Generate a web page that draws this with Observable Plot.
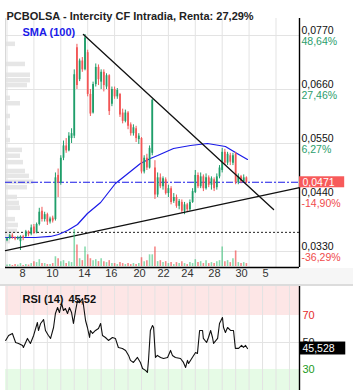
<!DOCTYPE html>
<html><head><meta charset="utf-8">
<script src="https://cdn.jsdelivr.net/npm/d3@7"></script>
<script src="https://cdn.jsdelivr.net/npm/@observablehq/plot@0.6"></script>
<style>
body{margin:0;background:#fff;}
#wrap{position:relative;width:353px;height:390px;overflow:hidden;font-family:"Liberation Sans",Arial,sans-serif;}
#wrap > *{position:absolute;left:0;}
#strip{top:268px;height:16px;width:353px;background:#f6f6f6;}
#sep{top:284px;height:2px;width:353px;background:#dcdcdc;}
</style></head><body><div id="wrap"><div id="strip"></div><div id="sep"></div></div>
<script>
// ---- data ----
const titleText = "PCBOLSA - Intercity CF Intradia, Renta: 27,29%";
const smaLabel = "SMA (100)";
const open = [.0352,.0356,.0362,.0358,.0355,.0350,.0360,.0360,.0370,.0365,
.0380,.0368,.0385,.0412,.0395,.0405,.0390,.0398,.0395,.0485,
.0470,.0520,.0545,.0535,.0560,.0565,.0745,.0680,.0718,.0700,
.0735,.0650,.0612,.0670,.0705,.0675,.0695,.0665,.0688,.0630,
.0660,.0645,.0650,.0612,.0595,.0612,.0588,.0570,.0580,.0558,
.0560,.0492,.0520,.0500,.0530,.0500,.0445,.0480,.0462,.0476,
.0448,.0458,.0432,.0440,.0422,.0430,.0412,.0425,.0415,.0430,
.0450,.0485,.0462,.0482,.0458,.0480,.0465,.0476,.0460,.0482,
.0495,.0532,.0510,.0525,.0510,.0528,.0470,.0482,.0472,.0480];
const close = [.0356,.0362,.0358,.0355,.0358,.0360,.0357,.0370,.0364,.0378,
.0367,.0385,.0410,.0395,.0405,.0390,.0396,.0392,.0480,.0470,
.0520,.0545,.0535,.0565,.0570,.0690,.0668,.0718,.0700,.0765,
.0650,.0610,.0670,.0705,.0680,.0695,.0668,.0688,.0615,.0660,
.0645,.0658,.0608,.0595,.0612,.0585,.0570,.0582,.0560,.0565,
.0492,.0520,.0500,.0540,.0638,.0445,.0480,.0462,.0478,.0448,
.0458,.0430,.0440,.0422,.0432,.0412,.0425,.0415,.0430,.0452,
.0485,.0462,.0482,.0458,.0480,.0465,.0478,.0458,.0482,.0500,
.0532,.0510,.0528,.0512,.0525,.0470,.0482,.0472,.0480,.0471];
const high = [.0358,.0365,.0366,.0360,.0361,.0362,.0363,.0373,.0372,.0384,
.0385,.0388,.0418,.0420,.0410,.0408,.0400,.0402,.0490,.0498,
.0525,.0555,.0560,.0572,.0580,.0700,.0752,.0722,.0725,.0772,
.0740,.0660,.0675,.0712,.0710,.0700,.0700,.0692,.0690,.0665,
.0665,.0662,.0652,.0620,.0618,.0615,.0592,.0588,.0585,.0570,
.0562,.0525,.0528,.0545,.0640,.0515,.0490,.0488,.0482,.0480,
.0465,.0462,.0448,.0445,.0436,.0435,.0430,.0428,.0435,.0458,
.0495,.0490,.0490,.0486,.0488,.0484,.0482,.0480,.0488,.0505,
.0540,.0538,.0532,.0530,.0530,.0532,.0488,.0485,.0486,.0482];
const low = [.0350,.0354,.0355,.0352,.0353,.0332,.0352,.0358,.0360,.0362,
.0365,.0366,.0382,.0390,.0390,.0383,.0386,.0388,.0392,.0440,
.0465,.0515,.0530,.0533,.0550,.0560,.0660,.0676,.0695,.0698,
.0645,.0605,.0610,.0665,.0668,.0660,.0655,.0660,.0607,.0625,
.0640,.0640,.0603,.0590,.0592,.0578,.0565,.0565,.0552,.0548,
.0488,.0488,.0495,.0498,.0525,.0436,.0440,.0458,.0455,.0445,
.0440,.0425,.0428,.0418,.0415,.0408,.0405,.0410,.0412,.0428,
.0448,.0458,.0458,.0452,.0455,.0460,.0455,.0452,.0455,.0478,
.0490,.0505,.0505,.0505,.0505,.0466,.0466,.0468,.0470,.0468];
const volume = [1.5,2,1,2,1.5,3,1,2,1.5,3,
5,4,7,3,3,2,2,3,10,8,
5,6,3,5,4,38,22,8,6,20,
12,8,6,7,5,8,5,4,6,3,
3,2,4,3,2,3,2,3,2,3,
9,5,6,12,12,20,5,6,4,5,
3,4,2,4,3,5,3,2,4,3,
7,4,5,3,6,3,4,3,5,6,
20,5,6,4,8,16,4,3,4,3];
const smaSlot = [-0.5,5,10.6,16.2,19.1,22.5,26.2,29.9,34.8,40.3,45.9,49.6,53.3,56,61.9,68.2,74.5,81.2,85.7,89.4];
const smaVal = [.03585,.03585,.03585,.03606,.03647,.03728,.03850,.04074,.04298,.04685,.04930,.05092,.05195,.05256,.05398,.05459,.05500,.05439,.05293,.05174];
const rsiSlot = [-0.5,0.6,2.0,3.2,4.3,5.8,6.1,7.6,8.7,9.9,
11.3,11.7,12.5,13.6,14.3,15.4,16.2,17.3,18.0,18.8,
19.5,20.3,21.0,21.7,22.5,23.2,24.0,24.7,25.5,26.2,
27.0,28.1,28.8,29.2,29.9,30.7,31.0,31.8,32.9,34.0,
34.8,35.5,36.6,37.7,39.2,40.3,41.4,42.9,44.1,45.2,
45.9,47.0,48.5,49.6,50.4,51.5,52.2,52.6,53.3,54.1,
54.5,55.2,55.9,57.1,58.2,59.7,60.8,61.5,62.6,64.5,
65.6,66.4,67.1,67.5,68.9,70.1,70.8,71.6,72.7,73.0,
74.2,74.9,75.7,76.4,76.8,78.3,79.0,80.1,80.5,81.2,
82.0,83.1,84.2,84.9,86.1,87.2,87.9,88.7,89.4];
const rsiVal = [51.5,55.2,56.7,50.0,49.3,47.8,46.3,53.0,49.3,55.2,
64.8,58.9,64.1,67.0,58.9,55.2,53.0,61.1,71.5,75.9,
72.2,78.9,73.7,75.2,71.5,75.9,72.2,64.1,73.7,81.1,
79.6,82.6,72.2,66.3,61.1,53.7,58.9,56.7,58.9,60.4,
64.1,55.2,53.7,51.5,53.7,53.0,46.3,45.6,44.1,40.4,
36.7,35.2,38.9,35.2,30.7,29.3,27.8,36.7,58.9,62.6,
61.1,38.9,40.4,38.9,38.1,38.9,44.1,40.4,38.9,38.1,
35.2,31.5,36.7,34.4,38.9,42.6,41.9,58.9,58.9,53.0,
50.0,53.7,58.9,53.7,49.3,53.0,64.1,68.5,61.1,57.4,
61.1,58.9,58.9,45.6,45.6,47.8,46.3,47.8,45.5];
const profPrice = [.0752,.0711,.0689,.0678,.0668,.0642,.0631,.0605,.0581,.0556,.0536,.0524,.0511,.0493,.0483,.0471,.0460,.0440,.0428,.0418,.0395,.0383,.0371,.0361,.0350];
const profVol = [10,20,25,25,22,5,15,5,5,5,17,15,18,20,24,28,22,12,14,15,10,13,12,7,5];
const trendDown = [{s:28.4,p:0.0772},{s:99.1,p:0.04156}];
const trendUp = [{s:-0.56,p:0.0332},{s:108.74,p:0.0460}];
const supportLevel = 0.0369;
const lastPrice = 0.0471, lastPriceLabel = "0,0471";
const priceTicks = [0.0770,0.0660,0.0550,0.0440,0.0330];
const priceLabels = ["0,0770","0,0660","0,0550","0,0440","0,0330"];
const pctLabels = ["48,64%","27,46%","6,27%","-14,90%","-36,29%"];
const xTickSlot = [5.8,16.9,28.8,38.8,49.3,58.2,67.1,77.1,87.2,96.1];
const xTickLabel = ["8","10","14","16","20","22","24","28","30","5"];
const rsiLevels = [70,50,30];
const rsiLast = 45.528, rsiLastLabel = "45,528", rsiTitle = "RSI (14)", rsiTitleVal = "45,52";

// ---- layout / style ----
const FONT = '"Liberation Sans", Arial, sans-serif';
const xDom = [-0.56, 108.74];
const yDom = [0.02974, 0.08046];
const UP = "#1f9e6a", DOWN = "#f25656", VUP = "rgba(40,190,110,0.55)", VDOWN = "rgba(240,70,70,0.65)";
const GRID = "#e3e3e3";
const candles = open.map((o,i)=>({s:i,o,c:close[i],h:high[i],l:low[i],v:volume[i]}));
const sma = smaSlot.map((s,i)=>({s,p:smaVal[i]}));
const rsi = rsiSlot.map((s,i)=>({s,v:rsiVal[i]}));
const prof = profPrice.map((p,i)=>({p,v:profVol[i]}));
const ticks = priceTicks.map((p,i)=>({p,lab:priceLabels[i],pct:pctLabels[i],i}));
const wrap = document.getElementById("wrap");
function add(el, top){el.style.top = top+"px"; wrap.appendChild(el);}

// volume profile (bottom layer)
add(Plot.plot({
  width:353, height:268, marginTop:18, marginBottom:1, marginLeft:5, marginRight:318,
  style:{background:"white"},
  x:{domain:[0,30], axis:null}, y:{domain:yDom, axis:null},
  marks:[Plot.rect(prof,{x1:0,x2:"v",y1:d=>d.p-0.00046,y2:d=>d.p+0.00046,fill:"#e6e6e6"})]
}), 0);

// main price chart
add(Plot.plot({
  width:353, height:286, marginTop:18, marginBottom:19, marginLeft:5, marginRight:54,
  style:{background:"transparent", overflow:"visible", fontFamily:FONT},
  x:{domain:xDom, axis:null}, y:{domain:yDom, axis:null},
  marks:[
    Plot.gridX({ticks:d3.range(0,101,10), stroke:GRID, strokeOpacity:1}),
    Plot.gridY({ticks:priceTicks, stroke:GRID, strokeOpacity:1}),
    Plot.ruleX([xDom[0]], {stroke:"#d8d8d8"}),
    Plot.ruleY([supportLevel], {stroke:"#222", strokeDasharray:"2,2"}),
    Plot.ruleY([lastPrice], {stroke:"#1a1ae8", strokeDasharray:"7,2,2,2", strokeWidth:1.2}),
    Plot.line(sma, {x:"s", y:"p", stroke:"#1a1ae8", strokeWidth:1.2}),
    Plot.ruleX(candles, {x:"s", y1:"l", y2:"h", stroke:d=>d.c>=d.o?UP:DOWN, strokeWidth:1}),
    Plot.ruleX(candles, {x:"s", y1:"o", y2:d=>Math.abs(d.c-d.o)<0.00015?d.o+(d.c>=d.o?0.00015:-0.00015):d.c, stroke:d=>d.c>=d.o?UP:DOWN, strokeWidth:1.8}),
    Plot.line(trendDown, {x:"s", y:"p", stroke:"#111", strokeWidth:1.3}),
    Plot.line(trendUp, {x:"s", y:"p", stroke:"#111", strokeWidth:1.3}),
    Plot.ruleX([xDom[1]], {stroke:"#000", strokeWidth:1.4}),
    Plot.ruleY([yDom[0]], {stroke:"#000", strokeWidth:1.4}),
    Plot.text(xTickSlot.map((s,i)=>({s,t:xTickLabel[i]})), {x:"s", text:"t", frameAnchor:"bottom", dy:9.5, fill:"#333", fontSize:11}),
    Plot.text(ticks, {x:()=>xDom[1], y:"p", text:"lab", dx:2, dy:-5, textAnchor:"start", fontSize:10.5, fill:"#111", fontWeight:d=>d.i===0?"bold":"normal"}),
    Plot.text(ticks, {x:()=>xDom[1], y:"p", text:"pct", dx:2, dy:6, textAnchor:"start", fontSize:10.5, fill:d=>d.pct.startsWith("-")?"#f04b4b":"#2b9d6c", fontWeight:d=>d.i===0?"bold":"normal"}),
    Plot.rect([lastPrice], {x1:xDom[1], x2:xDom[1]+16.8, y1:d=>d-0.00112, y2:d=>d+0.00112, fill:"#f75a5a"}),
    Plot.text([lastPriceLabel], {x:xDom[1], y:lastPrice, text:d=>d, dx:3, textAnchor:"start", fill:"white", fontSize:10.5}),
    Plot.text([titleText], {frameAnchor:"top-left", text:d=>d, dx:1, dy:-6, textAnchor:"start", fontWeight:"bold", fontSize:11, fill:"#222"}),
    Plot.text([smaLabel], {frameAnchor:"top-left", text:d=>d, dx:17, dy:10, textAnchor:"start", fontWeight:"bold", fontSize:11, fill:"#1a1ae8"})
  ]
}), 0);

// volume bars overlay
add(Plot.plot({
  width:353, height:286, marginTop:228, marginBottom:20, marginLeft:5, marginRight:54,
  style:{background:"transparent"},
  x:{domain:xDom, axis:null}, y:{domain:[0,39], axis:null},
  marks:[
    Plot.ruleX(candles.filter(d=>d.c>=d.o), {x:"s", y1:0, y2:"v", stroke:VUP, strokeWidth:1.6}),
    Plot.ruleX(candles.filter(d=>d.c<d.o), {x:"s", y1:0, y2:"v", stroke:VDOWN, strokeWidth:1.6})
  ]
}), 0);

// RSI panel
const rDom = [14.4, 91.5];
add(Plot.plot({
  width:353, height:104, marginTop:0, marginBottom:0, marginLeft:5, marginRight:54,
  style:{background:"white", overflow:"visible", fontFamily:FONT},
  x:{domain:xDom, axis:null}, y:{domain:rDom, axis:null},
  marks:[
    Plot.rect([0], {x1:xDom[0], x2:xDom[1], y1:70, y2:rDom[1], fill:"#fde6e6"}),
    Plot.rect([0], {x1:xDom[0], x2:xDom[1], y1:rDom[0], y2:30, fill:"#e6fbe6"}),
    Plot.gridX({ticks:d3.range(0,106,5), stroke:GRID, strokeOpacity:1}),
    Plot.ruleY([50], {stroke:GRID}),
    Plot.line(rsi, {x:"s", y:"v", stroke:"#111", strokeWidth:1.1}),
    Plot.ruleX([xDom[1]], {stroke:"#000", strokeWidth:1.4}),
    Plot.text(rsiLevels, {x:xDom[1], y:d=>d, text:d=>String(d), dx:3, textAnchor:"start", fontSize:11, fontWeight:d=>d===50?"normal":"bold", fill:d=>d===70?"#e52b2b":d===30?"#1c9a1c":"#222"}),
    Plot.rect([rsiLast], {x1:xDom[1], x2:xDom[1]+17.2, y1:d=>d-4.8, y2:d=>d+4.8, fill:"#000"}),
    Plot.text([rsiLastLabel], {x:xDom[1], y:rsiLast, text:d=>d, dx:3, textAnchor:"start", fill:"white", fontSize:10.5}),
    Plot.text([rsiTitle], {frameAnchor:"top-left", text:d=>d, dx:17, dy:9, textAnchor:"start", fontWeight:"bold", fontSize:11, fill:"#111"}),
    Plot.text([rsiTitleVal], {frameAnchor:"top-left", text:d=>d, dx:63, dy:9, textAnchor:"start", fontWeight:"bold", fontSize:11, fill:"#111"})
  ]
}), 286);
</script></body></html>
